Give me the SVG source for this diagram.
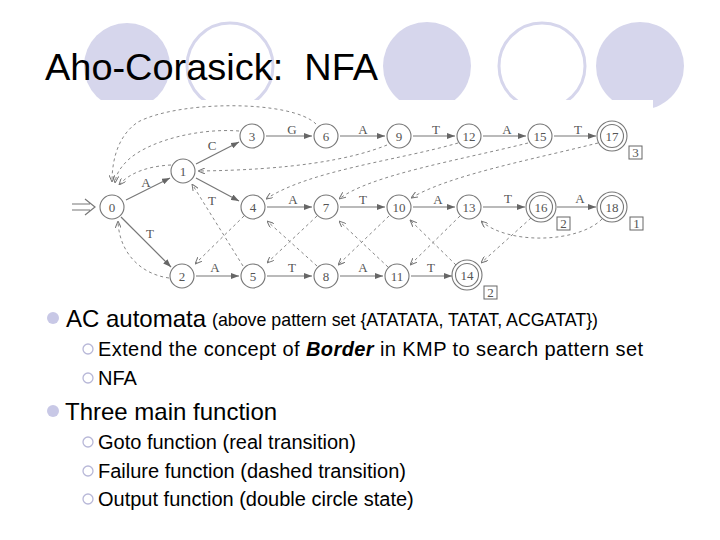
<svg xmlns="http://www.w3.org/2000/svg" width="720" height="540" viewBox="0 0 720 540">
<style>
.bgf{fill:#d6d6ec}
.bgo{fill:none;stroke:#d6d6ec;stroke-width:3}
.nd{fill:#fff;stroke:#777;stroke-width:1.1}
.nt{font-family:"Liberation Serif",serif;font-size:13px;fill:#555;text-anchor:middle}
.lb{font-family:"Liberation Serif",serif;font-size:13px;fill:#555;text-anchor:middle}
.go{fill:none;stroke:#777;stroke-width:1.2;marker-end:url(#ah)}
.fl{fill:none;stroke:#888;stroke-width:1;stroke-dasharray:3,3;marker-end:url(#fh)}
.bx{fill:#fff;stroke:#666;stroke-width:1}
.t1{font-family:"Liberation Sans",Arial,sans-serif;fill:#000}
.sb{fill:none;stroke:#b8b8d8;stroke-width:1.3}
</style>
<defs>
<marker id="ah" viewBox="0 0 8 6" refX="8" refY="3" markerWidth="8" markerHeight="6" markerUnits="userSpaceOnUse" orient="auto"><path d="M0,0 L8,3 L0,6 z" fill="#666"/></marker>
<marker id="fh" viewBox="0 0 7 6" refX="7" refY="3" markerWidth="7" markerHeight="6" markerUnits="userSpaceOnUse" orient="auto"><path d="M0,0 L7,3 L0,6" fill="none" stroke="#777" stroke-width="1"/></marker>
</defs>
<rect width="720" height="540" fill="#fff"/>
<g id="background">
<circle class="bgf" cx="127" cy="66" r="43"/>
<circle class="bgo" cx="230" cy="66" r="43"/>
<circle class="bgf" cx="427" cy="66" r="44"/>
<circle class="bgo" cx="542" cy="66" r="43"/>
<circle class="bgf" cx="640" cy="66" r="44"/>
<rect x="65" y="100" width="588" height="202" fill="#fff"/>
</g>
<text id="title" class="t1" x="45" y="80" font-size="36" style="white-space:pre" textLength="333" lengthAdjust="spacingAndGlyphs">Aho-Corasick:  NFA</text>
<g id="connectors">
<path d="M72,204 H90 M72,210 H90 M85,199 L95,207 L85,215" fill="none" stroke="#777" stroke-width="1.2"/>
<path class="go" d="M126,200 L170,178"/>
<path class="go" d="M121,217 L171,267"/>
<path class="go" d="M196,164 L239,142"/>
<path class="go" d="M196,178 L239,201"/>
<path class="go" d="M196,276 H239"/>
<path class="go" d="M266,136 H312"/>
<path class="go" d="M340,136 H385"/>
<path class="go" d="M413,136 H455"/>
<path class="go" d="M483,136 H526"/>
<path class="go" d="M554,136 H596"/>
<path class="go" d="M267,207 H312"/>
<path class="go" d="M340,207 H385"/>
<path class="go" d="M413,207 H455"/>
<path class="go" d="M483,207 H525"/>
<path class="go" d="M557,207 H596"/>
<path class="go" d="M267,276 H312"/>
<path class="go" d="M340,276 H383"/>
<path class="go" d="M411,276 H452"/>
<path class="fl" d="M316,124 C292,100 180,100 138,122 C120,134 112,156 112,182"/>
<path class="fl" d="M239,131 C200,128 150,140 128,160 C120,168 116,174 115,183"/>
<path class="fl" d="M171,165 C150,166 130,172 119,185"/>
<path class="fl" d="M387,145 C350,160 290,170 198,171"/>
<path class="fl" d="M169,278 C140,274 119,252 118,221"/>
<path class="fl" d="M244,216 L195,264"/>
<path class="fl" d="M243,266 L192,184"/>
<path class="fl" d="M317,216 L267,263"/>
<path class="fl" d="M317,266 L267,221"/>
<path class="fl" d="M389,216 L338,265"/>
<path class="fl" d="M388,267 L339,221"/>
<path class="fl" d="M458,143 C400,160 310,170 266,199"/>
<path class="fl" d="M528,143 C460,160 370,175 339,199"/>
<path class="fl" d="M598,143 C530,160 450,175 411,198"/>
<path class="fl" d="M460,216 L410,265"/>
<path class="fl" d="M456,265 L410,220"/>
<path class="fl" d="M531,218 L481,263"/>
<path class="fl" d="M602,219 C580,242 510,246 481,221"/>
<text class="lb" x="146" y="187">A</text>
<text class="lb" x="150" y="238">T</text>
<text class="lb" x="212" y="150">C</text>
<text class="lb" x="212" y="205">T</text>
<text class="lb" x="215" y="272">A</text>
<text class="lb" x="292" y="134">G</text>
<text class="lb" x="363" y="134">A</text>
<text class="lb" x="436" y="134">T</text>
<text class="lb" x="507" y="134">A</text>
<text class="lb" x="578" y="134">T</text>
<text class="lb" x="293" y="204">A</text>
<text class="lb" x="363" y="204">T</text>
<text class="lb" x="438" y="204">A</text>
<text class="lb" x="508" y="203">T</text>
<text class="lb" x="580" y="203">A</text>
<text class="lb" x="292" y="272">T</text>
<text class="lb" x="363" y="272">A</text>
<text class="lb" x="431" y="272">T</text>
</g>
<g id="n0"><circle class="nd" cx="112" cy="207" r="12"/><text class="nt" x="112" y="211.5">0</text></g>
<g id="n1"><circle class="nd" cx="183" cy="171" r="12"/><text class="nt" x="183" y="175.5">1</text></g>
<g id="n2"><circle class="nd" cx="182" cy="276" r="12"/><text class="nt" x="182" y="280.5">2</text></g>
<g id="n3"><circle class="nd" cx="252" cy="136" r="12"/><text class="nt" x="252" y="140.5">3</text></g>
<g id="n4"><circle class="nd" cx="253" cy="207" r="12"/><text class="nt" x="253" y="211.5">4</text></g>
<g id="n5"><circle class="nd" cx="253" cy="276" r="12"/><text class="nt" x="253" y="280.5">5</text></g>
<g id="n6"><circle class="nd" cx="326" cy="136" r="12"/><text class="nt" x="326" y="140.5">6</text></g>
<g id="n7"><circle class="nd" cx="326" cy="207" r="12"/><text class="nt" x="326" y="211.5">7</text></g>
<g id="n8"><circle class="nd" cx="326" cy="276" r="12"/><text class="nt" x="326" y="280.5">8</text></g>
<g id="n9"><circle class="nd" cx="399" cy="136" r="12"/><text class="nt" x="399" y="140.5">9</text></g>
<g id="n10"><circle class="nd" cx="399" cy="207" r="12"/><text class="nt" x="399" y="211.5">10</text></g>
<g id="n11"><circle class="nd" cx="397" cy="276" r="12"/><text class="nt" x="397" y="280.5">11</text></g>
<g id="n12"><circle class="nd" cx="469" cy="136" r="12"/><text class="nt" x="469" y="140.5">12</text></g>
<g id="n13"><circle class="nd" cx="469" cy="207" r="12"/><text class="nt" x="469" y="211.5">13</text></g>
<g id="n14"><circle class="nd" cx="467" cy="275" r="15"/><circle class="nd" cx="467" cy="275" r="11.5"/><text class="nt" x="467" y="279.5">14</text><rect class="bx" x="484" y="286" width="13" height="13"/><text class="nt" x="490.5" y="297">2</text></g>
<g id="n15"><circle class="nd" cx="540" cy="136" r="12"/><text class="nt" x="540" y="140.5">15</text></g>
<g id="n16"><circle class="nd" cx="541" cy="207" r="15"/><circle class="nd" cx="541" cy="207" r="11.5"/><text class="nt" x="541" y="211.5">16</text><rect class="bx" x="557" y="217" width="13" height="13"/><text class="nt" x="563.5" y="228">2</text></g>
<g id="n17"><circle class="nd" cx="612" cy="136" r="15"/><circle class="nd" cx="612" cy="136" r="11.5"/><text class="nt" x="612" y="140.5">17</text><rect class="bx" x="629" y="146" width="13" height="13"/><text class="nt" x="635.5" y="157">3</text></g>
<g id="n18"><circle class="nd" cx="612" cy="207" r="15"/><circle class="nd" cx="612" cy="207" r="11.5"/><text class="nt" x="612" y="211.5">18</text><rect class="bx" x="630" y="217" width="13" height="13"/><text class="nt" x="636.5" y="228">1</text></g>
<g id="bullets">
<circle cx="53" cy="318" r="6" fill="#c8c8e6"/>
<text class="t1" x="66" y="327" font-size="24">AC automata</text>
<text class="t1" x="212" y="326" font-size="19" textLength="386" lengthAdjust="spacingAndGlyphs">(above pattern set {ATATATA, TATAT, ACGATAT})</text>
<circle class="sb" cx="88" cy="349" r="5"/>
<text class="t1" x="98" y="356" font-size="20" textLength="545" lengthAdjust="spacing">Extend the concept of <tspan font-weight="bold" font-style="italic">Border</tspan> in KMP to search pattern set</text>
<circle class="sb" cx="88" cy="378" r="5"/>
<text class="t1" x="98" y="385" font-size="20">NFA</text>
<circle cx="53" cy="411" r="6" fill="#c8c8e6"/>
<text class="t1" x="65" y="420" font-size="24">Three main function</text>
<circle class="sb" cx="88" cy="442" r="5"/>
<text class="t1" x="98" y="449" font-size="20">Goto function (real transition)</text>
<circle class="sb" cx="88" cy="471" r="5"/>
<text class="t1" x="98" y="478" font-size="20">Failure function (dashed transition)</text>
<circle class="sb" cx="88" cy="499" r="5"/>
<text class="t1" x="98" y="506" font-size="20">Output function (double circle state)</text>
</g>
</svg>
